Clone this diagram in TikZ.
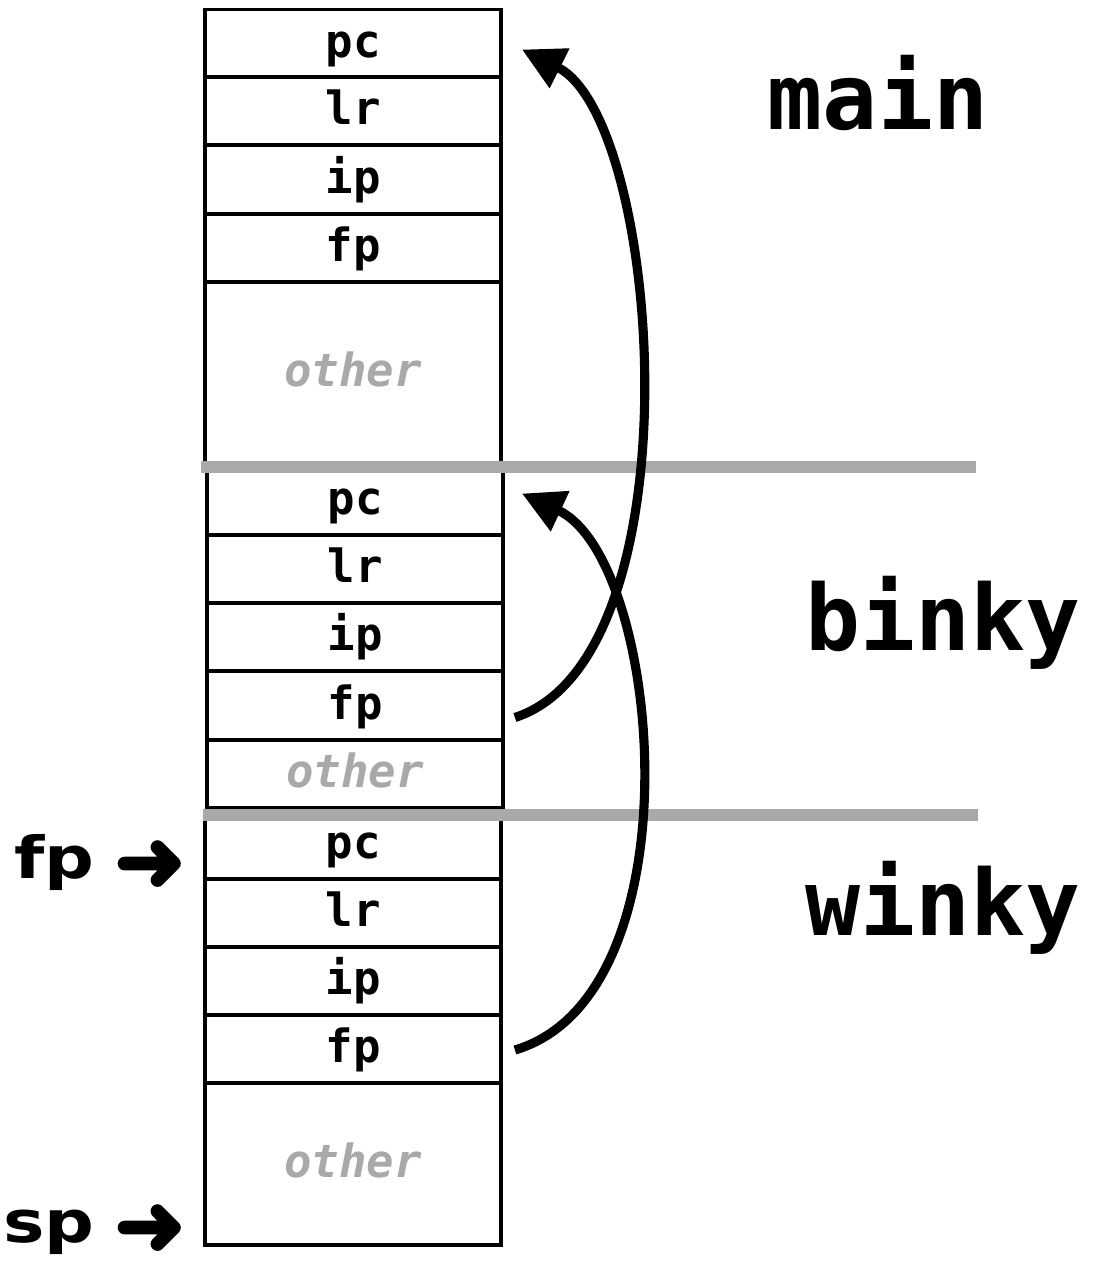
\documentclass[tikz,border=0pt]{standalone}
\usepackage{fontspec}
\setmonofont{DejaVu Sans Mono}
\newfontfamily\ptrfont{DejaVu Sans}[FakeStretch=1.2]
\newfontfamily\arrowfont{DejaVu Sans}[FakeBold=4]
\usetikzlibrary{arrows.meta}

\definecolor{sepgray}{RGB}{167,170,167}

\tikzset{
  cell/.style={draw, line width=1.1pt, minimum width=2.96cm, minimum height=0.68cm,
    inner sep=0pt, text height=10pt, text depth=2.3pt,
    font=\ttfamily\bfseries\fontsize{13}{13}\selectfont},
  othercell/.style={cell, text=sepgray, font=\ttfamily\bfseries\itshape\fontsize{13}{13}\selectfont},
  frame/.style={font=\ttfamily\bfseries\fontsize{26}{26}\selectfont, anchor=base},
  ptr/.style={font=\ptrfont\bfseries\fontsize{16.5}{16.5}\selectfont, anchor=base east, inner sep=0pt},
  sep/.style={sepgray, line width=3.6pt},
  link/.style={line width=2.6pt, -{Triangle[length=12pt,width=12pt]}},
}
\newcommand{\ptrarrow}{\hspace{0.2cm}\raisebox{-0.12cm}{\arrowfont\fontsize{24}{24}\selectfont ➜}}

\begin{document}
\begin{tikzpicture}
  \useasboundingbox (0,0) rectangle (10.97,-12.65);

  % main
  \node[cell] (mpc) at (3.53,-0.435) {pc};
  \node[cell] (mlr) at (3.53,-1.11) {lr};
  \node[cell] (mip) at (3.53,-1.795) {ip};
  \node[cell] (mfp) at (3.53,-2.48) {fp};
  \node[othercell, minimum height=1.81cm] (mother) at (3.53,-3.725) {other};

  % binky
  \node[cell, minimum height=0.69cm] (bpc) at (3.55,-5.005) {pc};
  \node[cell] (blr) at (3.55,-5.69) {lr};
  \node[cell] (bip) at (3.55,-6.37) {ip};
  \node[cell, minimum height=0.69cm] (bfp) at (3.55,-7.055) {fp};
  \node[othercell] (bother) at (3.55,-7.74) {other};

  % winky
  \node[cell] (wpc) at (3.53,-8.45) {pc};
  \node[cell] (wlr) at (3.53,-9.13) {lr};
  \node[cell] (wip) at (3.53,-9.81) {ip};
  \node[cell] (wfp) at (3.53,-10.49) {fp};
  \node[othercell, minimum height=1.62cm] (wother) at (3.53,-11.64) {other};

  % frame boundaries
  \draw[sep] ([shift={(-0.02,-0.02)}]mother.south west) -- +(7.75,0);
  \draw[sep] ([shift={(-0.02,-0.05)}]bother.south west) -- +(7.75,0);

  \node[frame] (lmain) at (8.78,-1.30) {main};
  \node[frame] (lbinky) at (9.43,-6.50) {binky};
  \node[frame] (lwinky) at (9.43,-9.35) {winky};

  \node[ptr] (fpreg) at (1.86,-8.78) {fp\ptrarrow};
  \node[ptr] (spreg) at (1.86,-12.42) {sp\ptrarrow};

  % saved frame pointers
  \draw[link] ([shift={(0.10,-0.12)}]bfp.east) .. controls +(1.85,0.60) and +(1.40,-0.70) .. ([shift={(0.19,-0.06)}]mpc.east);
  \draw[link] ([shift={(0.12,-0.01)}]wfp.east) .. controls +(1.85,0.55) and +(1.40,-0.65) .. ([shift={(0.17,0.07)}]bpc.east);
\end{tikzpicture}
\end{document}
